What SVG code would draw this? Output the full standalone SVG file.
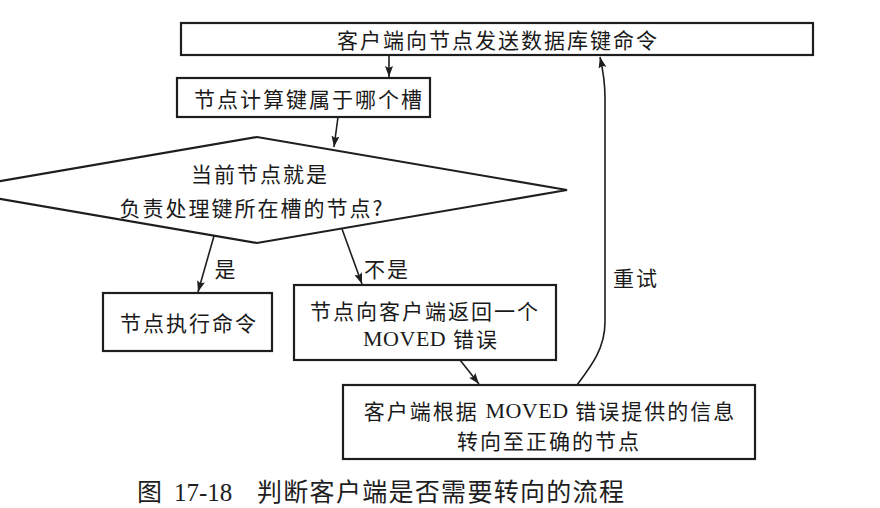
<svg xmlns="http://www.w3.org/2000/svg" width="880" height="508" viewBox="0 0 880 508">
<defs>
<style>
.box{fill:#fff;stroke:#1e1e1e;stroke-width:2.2}
.t{font-family:"Noto Sans CJK SC","Noto Sans",sans-serif;font-size:21px;fill:#1a1a1a;letter-spacing:2px;text-anchor:middle;dominant-baseline:central}
.lat{font-family:"Liberation Serif",serif;font-size:22px;letter-spacing:0.5px}
.c{fill:none;stroke:#1e1e1e;stroke-width:1.6}
.cap{font-family:"Noto Sans CJK SC","Noto Sans",sans-serif;font-size:25px;fill:#1e1e1e}
</style>
<marker id="ah" markerUnits="userSpaceOnUse" markerWidth="12" markerHeight="8" refX="11" refY="4" orient="auto">
<path d="M0,0 L11,4 L0,8 L2,4 z" fill="#1e1e1e"/>
</marker>
</defs>
<rect width="880" height="508" fill="#fff"/>
<g id="n1">
<rect class="box" x="181" y="23" width="632" height="32"/>
<text class="t" x="498" y="39">客户端向节点发送数据库键命令</text>
</g>
<g id="n2">
<rect class="box" x="177" y="78" width="253" height="39"/>
<text class="t" x="309" y="98">节点计算键属于哪个槽</text>
</g>
<g id="n3">
<polygon class="box" points="-51,190 257,137 567,190 257,243"/>
<text class="t" x="260" y="173">当前节点就是</text>
<text class="t" x="252" y="207">负责处理键所在槽的节点?</text>
</g>
<g id="n4">
<rect class="box" x="103" y="293" width="169" height="58"/>
<text class="t" x="189" y="322">节点执行命令</text>
</g>
<g id="n5">
<rect class="box" x="294" y="285" width="262" height="75"/>
<text class="t" x="425" y="310">节点向客户端返回一个</text>
<text class="t" x="431" y="338"><tspan class="lat">MOVED</tspan> 错误</text>
</g>
<g id="n6">
<rect class="box" x="343" y="385" width="412" height="74"/>
<text class="t" x="550" y="410">客户端根据 <tspan class="lat">MOVED</tspan> 错误提供的信息</text>
<text class="t" x="549" y="440">转向至正确的节点</text>
</g>
<g id="connectors">
<line class="c" x1="389" y1="55" x2="389" y2="77" marker-end="url(#ah)"/>
<line class="c" x1="338" y1="117" x2="334" y2="147" marker-end="url(#ah)"/>
<line class="c" x1="214" y1="236" x2="198" y2="292" marker-end="url(#ah)"/>
<line class="c" x1="342" y1="229" x2="362" y2="284" marker-end="url(#ah)"/>
<line class="c" x1="460" y1="360" x2="479" y2="384" marker-end="url(#ah)"/>
<path class="c" d="M577,385 C592,365 605,348 605,322 L605,98 C605,82 603,70 600,57" marker-end="url(#ah)"/>
<text class="t" x="226" y="268">是</text>
<text class="t" x="387" y="268">不是</text>
<text class="t" x="636" y="277">重试</text>
</g>
<g id="caption">
<text class="cap" y="501"><tspan x="137">图</tspan><tspan x="174" font-family="Liberation Serif, serif">17-18</tspan><tspan x="257" letter-spacing="1.3">判断客户端是否需要转向的流程</tspan></text>
</g>
</svg>
